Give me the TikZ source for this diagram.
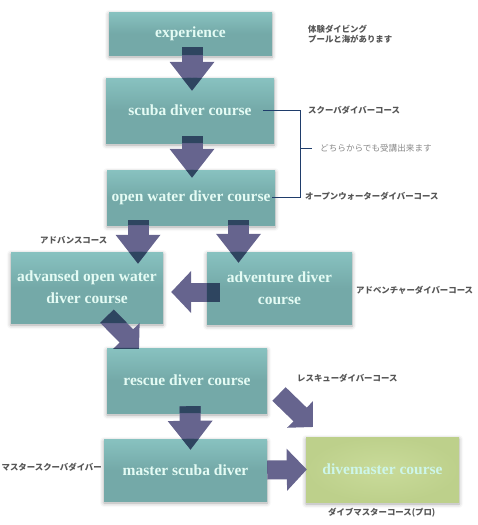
\documentclass[tikz,border=0pt]{standalone}
\usepackage{fontspec}
\setmainfont{Liberation Serif}
\newfontfamily\jpfont{Noto Sans CJK JP}
\usepackage{xcolor}
\usepackage{tikz}
\usetikzlibrary{arrows.meta,shadows.blur}

\definecolor{boxteal}{HTML}{74A9A8}
\definecolor{boxtealtop}{HTML}{88C2C0}
\definecolor{boxgreen}{HTML}{BDD08B}
\definecolor{boxgreentop}{HTML}{C9DB9A}
\definecolor{arrowcol}{HTML}{66648E}
\definecolor{arrowdark}{HTML}{2E4560}
\definecolor{bracketcol}{HTML}{1F3D6B}
\definecolor{labelcol}{HTML}{555555}
\definecolor{notecol}{HTML}{888888}
\definecolor{boxtext}{HTML}{E4FBF4}
\definecolor{protext}{HTML}{CDF6EA}

% all block arrows, drawn twice (plain, then darkened inside the boxes)
\newcommand{\coursearrows}{
    \draw[fatarrow] ([xshift=1.5pt,yshift=8pt]exp.south) -- ([xshift=2pt,yshift=-13pt]scuba.north);
    \draw[fatarrow] ([xshift=2pt,yshift=7pt]scuba.south) -- ([xshift=1pt,yshift=-8pt]open.north);
    \draw[fatarrow] ([xshift=-53pt,yshift=5pt]open.south) -- ([xshift=51pt,yshift=-12pt]advopen.north);
    \draw[fatarrow] ([xshift=47.5pt,yshift=5pt]open.south) -- ([xshift=-41pt,yshift=-11pt]adventure.north);
    \draw[sidearrow] ([xshift=13pt,yshift=-4pt]adventure.west) -- ([xshift=8pt,yshift=-4.5pt]advopen.east);
    \draw[slantarrow] ([xshift=20pt,yshift=7pt]advopen.south) -- ([xshift=-48pt,yshift=-1pt]rescue.north);
    \draw[fatarrow] ([xshift=3pt,yshift=7pt]rescue.south) -- ([xshift=5pt,yshift=-11pt]master.north);
    \draw[slantarrow] (freestart) -- (freeend);
    \draw[sidearrow] (master.east) -- ([xshift=1pt]divemaster.west);
}

\begin{document}
\begin{tikzpicture}[
    x=1pt, y=1pt,
    course/.style={rectangle, top color=boxtealtop, bottom color=boxteal, middle color=boxteal,
      text=boxtext, font=\fontsize{15.5}{19}\selectfont\bfseries, align=center, inner sep=0pt,
      blur shadow={shadow xshift=0pt, shadow yshift=-2pt, shadow blur radius=4pt, shadow opacity=35}},
    procourse/.style={course, inner color=boxgreentop, outer color=boxgreen, text=protext},
    jplabel/.style={text=labelcol, font=\jpfont\bfseries\fontsize{8.4}{10.5}\selectfont, inner sep=0pt, align=left},
    jpnote/.style={jplabel, text=notecol, font=\jpfont\fontsize{8.6}{10.5}\selectfont},
    fatarrow/.style={line width=21pt, draw=arrowcol, -{Triangle[length=29pt,width=43pt]}},
    sidearrow/.style={line width=19pt, draw=arrowcol, -{Triangle[length=20pt,width=41pt]}},
    slantarrow/.style={line width=19pt, draw=arrowcol, -{Triangle[length=18pt,width=36pt]}},
    bracket/.style={draw=bracketcol, line width=0.9pt}
  ]
  \useasboundingbox (0,0) rectangle (477,-525);

  % Nodes
  \node[course, minimum width=163pt, minimum height=43pt] (exp) at (190.5,-33.5) {experience};
  \node[course, minimum width=168pt, minimum height=65pt] (scuba) at (190,-110.5) {scuba diver course};
  \node[course, minimum width=168pt, minimum height=55pt] (open) at (191,-197.5) {open water diver course};
  \node[course, minimum width=152pt, minimum height=71pt] (advopen) at (87,-287.5) {advansed open water\\[3pt]diver course};
  \node[course, minimum width=145pt, minimum height=72pt] (adventure) at (279.5,-288) {adventure diver\\[3pt]course};
  \node[course, minimum width=160pt, minimum height=65pt] (rescue) at (187,-380.5) {rescue diver course};
  \node[course, minimum width=163pt, minimum height=62pt] (master) at (185.5,-470) {master scuba diver};
  \node[procourse, minimum width=153pt, minimum height=65pt] (divemaster) at (382.5,-469.5) {divemaster course};

  % Labels
  \node[jplabel, anchor=west] (expnote) at (308,-34) {体験ダイビング\\プールと海があります};
  \node[jplabel, anchor=west] (scubanote) at (308,-110) {スクーバダイバーコース};
  \node[jplabel, anchor=west] (opennote) at (305,-196) {オープンウォーターダイバーコース};
  \node[jpnote, anchor=west] (eithernote) at (320,-148) {どちらからでも受講出来ます};
  \node[jplabel, anchor=west] (advnote) at (40,-240) {アドバンスコース};
  \node[jplabel, anchor=west] (adventurenote) at (356,-290) {アドベンチャーダイバーコース};
  \node[jplabel, anchor=west] (rescuenote) at (297,-378) {レスキューダイバーコース};
  \node[jplabel, anchor=east] (masternote) at (102,-467) {マスタースクーバダイバー};
  \node[jplabel, anchor=west] (dmnote) at (328,-513) {ダイブマスターコース(プロ)};

  \coordinate (freestart) at (279,-394);
  \coordinate (freeend) at (313,-427);

  % Edges
  \coursearrows
  \begin{scope}[fatarrow/.append style={draw=arrowdark}, sidearrow/.append style={draw=arrowdark},
      slantarrow/.append style={draw=arrowdark}]
    \clip (exp.south west) rectangle (exp.north east)
      (scuba.south west) rectangle (scuba.north east)
      (open.south west) rectangle (open.north east)
      (advopen.south west) rectangle (advopen.north east)
      (adventure.south west) rectangle (adventure.north east)
      (rescue.south west) rectangle (rescue.north east)
      (master.south west) rectangle (master.north east);
    \coursearrows
  \end{scope}

  \draw[bracket] ([xshift=-11pt]scuba.east) -- ++(37pt,0) |- ([xshift=-3pt]open.east);
  \draw[bracket] ([xshift=-11pt]scuba.east) ++(37pt,-37.5pt) -- ([xshift=-8pt]eithernote.west);

\end{tikzpicture}
\end{document}
